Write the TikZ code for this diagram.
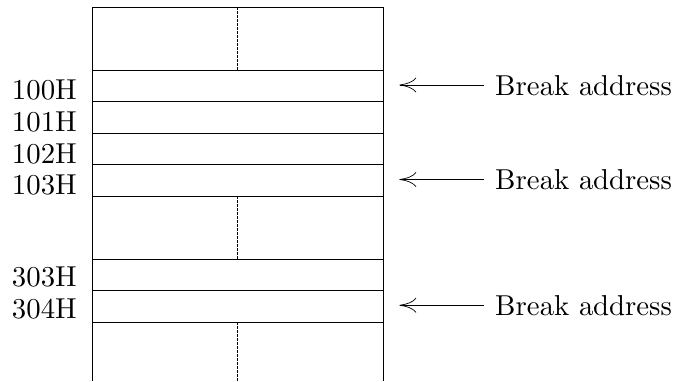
\documentclass[tikz,border=0pt]{standalone}
\usetikzlibrary{positioning,arrows.meta}
\font\memfont=cmr10 at 28.8pt
\tikzset{
	cell/.style={draw, line width=1pt, minimum width=290.5pt, minimum height=31.5pt, inner sep=0pt, outer sep=0pt},
	addr/.style={inner sep=0pt, font=\memfont},
	note/.style={inner sep=0pt, font=\memfont},
	brk/.style={line width=0.7pt, -{Computer Modern Rightarrow[length=17pt,width=15pt]}, shorten >=16.3pt, shorten <=11.5pt},
	midline/.style={line width=0.6pt, dash pattern=on 2.5pt off 1.5pt}}

\begin{document}
\begin{tikzpicture}[x=1pt,y=-1pt]
	\useasboundingbox (0,0) rectangle (677,381);

	%Memory cells
	\node[cell] (r100) at (237.75,86) {};
	\node[cell, below=0pt of r100] (r101) {};
	\node[cell, below=0pt of r101] (r102) {};
	\node[cell, below=0pt of r102] (r103) {};
	\node[cell] (r303) at (237.75,274.75) {};
	\node[cell, below=0pt of r303] (r304) {};

	%Outline of the memory column
	\draw[line width=1pt] (92.5,381) -- (92.5,7) -- (383,7) -- (383,381);
	\coordinate (top) at (237.75,7);
	\coordinate (bot) at (237.75,381);
	\draw[midline] (top) -- (r100.north);
	\draw[midline] (r103.south) -- (r303.north);
	\draw[midline] (r304.south) -- (bot);

	% Addresses
	\node[addr, left=15.5pt of r100.west, yshift=-4pt] (a100) {100H};
	\node[addr, left=15.5pt of r101.west, yshift=-4.5pt] (a101) {101H};
	\node[addr, left=15.5pt of r102.west, yshift=-4.5pt] (a102) {102H};
	\node[addr, left=15.5pt of r103.west, yshift=-4.5pt] (a103) {103H};
	\node[addr, left=15.5pt of r303.west, yshift=-2.2pt] (a303) {303H};
	\node[addr, left=15.5pt of r304.west, yshift=-2.2pt] (a304) {304H};

	% Break addresses
	\node[note, right=112pt of r100.east, yshift=1pt] (b100) {Break address};
	\node[note, right=112pt of r103.east, yshift=1pt] (b103) {Break address};
	\node[note, right=112pt of r304.east, yshift=1pt] (b304) {Break address};
	\draw[brk] (b100.west) -- (b100.west -| r100.east);
	\draw[brk] (b103.west) -- (b103.west -| r103.east);
	\draw[brk] (b304.west) -- (b304.west -| r304.east);

\end{tikzpicture}
\end{document}
